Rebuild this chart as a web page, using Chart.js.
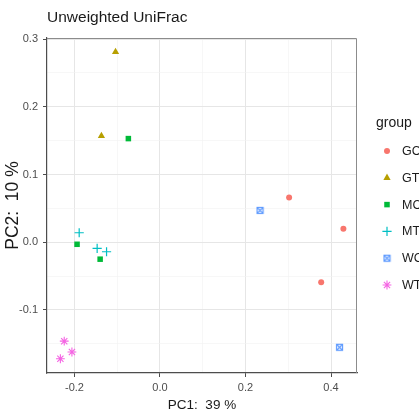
<!DOCTYPE html>
<html>
<head>
<meta charset="utf-8">
<title>Unweighted UniFrac</title>
<script src="https://cdn.jsdelivr.net/npm/chart.js@4/dist/chart.umd.min.js"></script>
<style>
    html, body { margin: 0; padding: 0; background: #ffffff; }
    #chart { display: block; }
</style>
</head>
<body>
<canvas id="chart" width="419" height="415"></canvas>
<script>
// Groups and colours (ggplot default hues)
const groupNames = ['GC', 'GT', 'MC', 'MT', 'WC', 'WT'];
const groupColors = ['#F8766D', '#B79F00', '#00BA38', '#00BFC4', '#619CFF', '#F564E3'];

// PCoA coordinates
const gcPC1 = [0.302, 0.429, 0.377];
const gcPC2 = [0.066, 0.020, -0.059];
const gtPC1 = [-0.104, -0.137];
const gtPC2 = [0.281, 0.157];
const mcPC1 = [-0.074, -0.194, -0.140];
const mcPC2 = [0.153, -0.003, -0.025];
const mtPC1 = [-0.189, -0.147, -0.125];
const mtPC2 = [0.014, -0.009, -0.014];
const wcPC1 = [0.234, 0.420];
const wcPC2 = [0.047, -0.155];
const wtPC1 = [-0.224, -0.206, -0.233];
const wtPC2 = [-0.146, -0.162, -0.172];

// Axes
const xTicks = [-0.2, 0.0, 0.2, 0.4];
const xMinorTicks = [-0.1, 0.1, 0.3];
const yTicks = [-0.1, 0.0, 0.1, 0.2, 0.3];
const yMinorTicks = [-0.15, -0.05, 0.05, 0.15, 0.25];
const xRange = [-0.2643, 0.4608];
const yRange = [-0.193, 0.3015];

const FONT = '"Liberation Sans", Arial, sans-serif';
const TEXT_DARK = '#1a1a1a';
const TEXT_TICK = '#4d4d4d';

const toPoints = (xs, ys) => xs.map((x, i) => ({ x, y: ys[i] }));

// Square with a cross inside (ggplot shape 7)
const makeSquareCross = (color) => {
    const c = document.createElement('canvas');
    c.width = 9;
    c.height = 9;
    const g = c.getContext('2d');
    g.strokeStyle = color;
    g.lineWidth = 1.2;
    g.strokeRect(1.5, 1.5, 6, 6);
    g.beginPath();
    g.moveTo(1.5, 1.5); g.lineTo(7.5, 7.5);
    g.moveTo(7.5, 1.5); g.lineTo(1.5, 7.5);
    g.stroke();
    return c;
};

const pointShapes = [
    { pointStyle: 'circle', radius: 3, borderWidth: 0 },
    { pointStyle: 'triangle', radius: 4.2, borderWidth: 0 },
    { pointStyle: 'rect', radius: 3.9, borderWidth: 0 },
    { pointStyle: 'cross', radius: 4.6, borderWidth: 1.2 },
    { pointStyle: makeSquareCross(groupColors[4]), radius: 4.5, borderWidth: 0 },
    { pointStyle: 'star', radius: 4.4, borderWidth: 1.1 }
];

const seriesX = [gcPC1, gtPC1, mcPC1, mtPC1, wcPC1, wtPC1];
const seriesY = [gcPC2, gtPC2, mcPC2, mtPC2, wcPC2, wtPC2];

const datasets = groupNames.map((name, i) => ({
    label: name,
    data: toPoints(seriesX[i], seriesY[i]),
    pointStyle: pointShapes[i].pointStyle,
    pointRadius: pointShapes[i].radius,
    pointBorderWidth: pointShapes[i].borderWidth,
    backgroundColor: groupColors[i],
    borderColor: groupColors[i],
    showLine: false
}));

const isMajor = (list, v) => list.some(t => Math.abs(t - v) < 1e-9);

const makeAxis = (majors, minors, range) => ({
    type: 'linear',
    min: range[0],
    max: range[1],
    afterBuildTicks: (scale) => {
        scale.ticks = majors.concat(minors).sort((a, b) => a - b).map(v => ({ value: v }));
    },
    ticks: {
        autoSkip: false,
        maxRotation: 0,
        color: TEXT_TICK,
        font: { family: FONT, size: 11 },
        callback: (v) => isMajor(majors, v) ? v.toFixed(1) : ''
    },
    grid: {
        color: (ctx) => ctx.tick && isMajor(majors, ctx.tick.value) ? '#e6e6e6' : '#f1f1f1',
        lineWidth: (ctx) => ctx.tick && isMajor(majors, ctx.tick.value) ? 1 : 0.6,
        tickColor: (ctx) => ctx.tick && isMajor(majors, ctx.tick.value) ? '#4d4d4d' : 'rgba(0,0,0,0)',
        tickLength: 4,
        tickWidth: 1
    },
    border: { color: '#4d4d4d', width: 1.2 }
});

// Title, panel frame and group legend
const decorPlugin = {
    id: 'decor',
    afterDraw(chart) {
        const ctx = chart.ctx;
        const area = chart.chartArea;
        ctx.save();

        ctx.strokeStyle = '#8c8c8c';
        ctx.lineWidth = 1;
        ctx.beginPath();
        ctx.moveTo(area.left, area.top + 0.5);
        ctx.lineTo(area.right - 0.5, area.top + 0.5);
        ctx.lineTo(area.right - 0.5, area.bottom);
        ctx.stroke();

        ctx.fillStyle = TEXT_DARK;
        ctx.textBaseline = 'middle';
        ctx.textAlign = 'left';
        ctx.font = '15.5px ' + FONT;
        ctx.fillText('Unweighted UniFrac', area.left, 18);

        ctx.font = '14px ' + FONT;
        ctx.fillText('group', 376, 123);

        ctx.font = '12.5px ' + FONT;
        chart.data.datasets.forEach((ds, i) => {
            const y = 151 + i * 26.8;
            ctx.fillStyle = groupColors[i];
            ctx.strokeStyle = groupColors[i];
            ctx.lineWidth = pointShapes[i].borderWidth;
            Chart.helpers.drawPoint(ctx, {
                pointStyle: pointShapes[i].pointStyle,
                radius: pointShapes[i].radius,
                rotation: 0,
                borderWidth: pointShapes[i].borderWidth
            }, 387, y);
            ctx.fillStyle = TEXT_DARK;
            ctx.fillText(ds.label, 402, y + 0.5);
        });
        ctx.restore();
    }
};

const xAxis = makeAxis(xTicks, xMinorTicks, xRange);
xAxis.ticks.padding = 4;
xAxis.title = {
    display: true,
    text: 'PC1:  39 %',
    color: TEXT_DARK,
    font: { family: FONT, size: 13.5 },
    padding: { top: 0, bottom: 1.5 }
};
xAxis.afterFit = (scale) => { scale.height = 42; };

const yAxis = makeAxis(yTicks, yMinorTicks, yRange);
yAxis.ticks.padding = 5;
yAxis.title = {
    display: true,
    text: 'PC2:  10 %',
    color: TEXT_DARK,
    font: { family: FONT, size: 17.5 },
    padding: { top: 2.5, bottom: 0 }
};
yAxis.afterFit = (scale) => { scale.width = 47; };

new Chart(document.getElementById('chart'), {
    type: 'scatter',
    data: { datasets },
    options: {
        responsive: false,
        animation: false,
        events: [],
        layout: { padding: { top: 38, right: 62, bottom: 0, left: 0 } },
        scales: { x: xAxis, y: yAxis },
        plugins: {
            legend: { display: false },
            tooltip: { enabled: false }
        }
    },
    plugins: [decorPlugin]
});
</script>
</body>
</html>
